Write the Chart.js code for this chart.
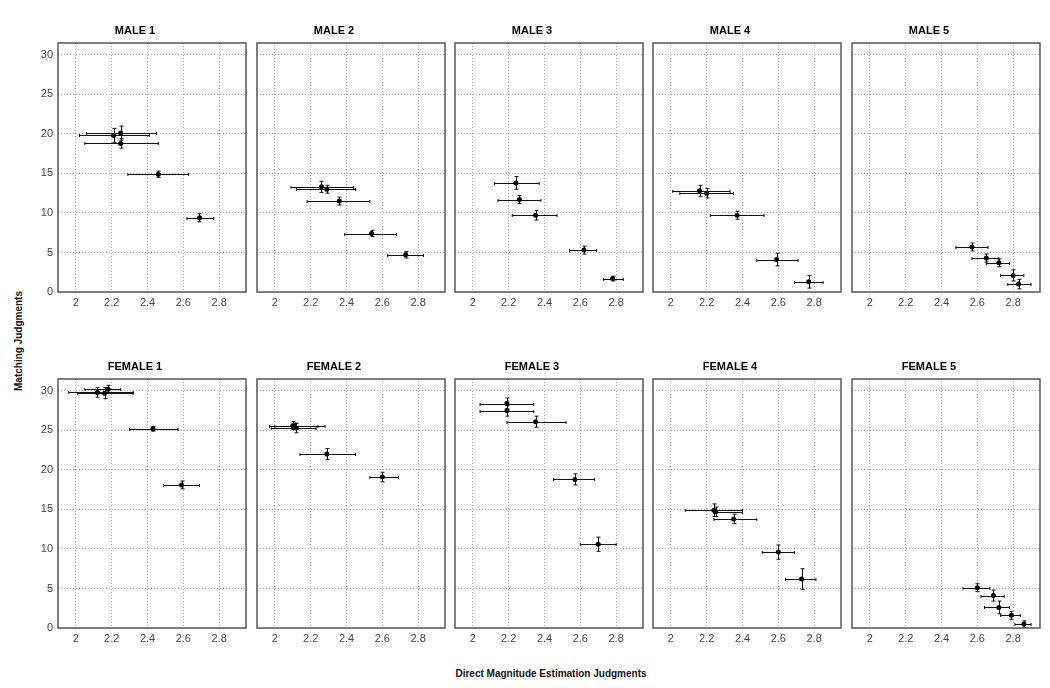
<!DOCTYPE html>
<html>
<head>
<meta charset="utf-8">
<title>Matching vs Direct Magnitude Estimation</title>
<script src="https://cdn.jsdelivr.net/npm/chart.js@4.4.1/dist/chart.umd.min.js"></script>
<style>
  body { margin: 0; background: #fff; font-family: "Liberation Sans", Arial, sans-serif; }
  #wrap { position: relative; width: 1050px; height: 688px; overflow: hidden; }
  #wrap canvas { position: absolute; }
  .axis-label { position: absolute; font-weight: bold; font-size: 10px; color: #111; white-space: nowrap; }
  #ylabel { left: 18px; top: 341px; transform: translate(-50%, -50%) rotate(-90deg); }
  #xlabel { left: 551px; top: 673px; transform: translate(-50%, -50%); }
</style>
</head>
<body>
<div id="wrap">
  <div id="ylabel" class="axis-label">Matching Judgments</div>
  <div id="xlabel" class="axis-label">Direct Magnitude Estimation Judgments</div>
</div>
<script>
// Datos por panel
const panelTitles = ['MALE 1', 'MALE 2', 'MALE 3', 'MALE 4', 'MALE 5',
                     'FEMALE 1', 'FEMALE 2', 'FEMALE 3', 'FEMALE 4', 'FEMALE 5'];
const xTicks = [2, 2.2, 2.4, 2.6, 2.8];
const yTicks = [0, 5, 10, 15, 20, 25, 30];

// media de la estimacion directa (eje x)
const dmeX = [
  [2.21, 2.25, 2.25, 2.46, 2.69],
  [2.26, 2.29, 2.36, 2.54, 2.73],
  [2.24, 2.26, 2.35, 2.62, 2.78],
  [2.16, 2.20, 2.37, 2.59, 2.77],
  [2.57, 2.65, 2.72, 2.80, 2.83],
  [2.12, 2.16, 2.18, 2.43, 2.59],
  [2.10, 2.12, 2.11, 2.29, 2.60],
  [2.19, 2.19, 2.35, 2.57, 2.70],
  [2.24, 2.25, 2.35, 2.60, 2.73],
  [2.60, 2.69, 2.72, 2.79, 2.86]
];
const dmeLow = [
  [2.02, 2.06, 2.05, 2.29, 2.62],
  [2.09, 2.12, 2.18, 2.39, 2.63],
  [2.12, 2.14, 2.22, 2.54, 2.73],
  [2.01, 2.05, 2.22, 2.48, 2.69],
  [2.48, 2.57, 2.65, 2.73, 2.77],
  [1.96, 2.01, 2.05, 2.30, 2.49],
  [1.97, 1.98, 2.00, 2.14, 2.53],
  [2.04, 2.04, 2.19, 2.45, 2.60],
  [2.08, 2.24, 2.24, 2.51, 2.64],
  [2.52, 2.62, 2.64, 2.73, 2.81]
];
const dmeHigh = [
  [2.41, 2.45, 2.46, 2.63, 2.77],
  [2.44, 2.45, 2.53, 2.68, 2.83],
  [2.37, 2.38, 2.47, 2.69, 2.84],
  [2.33, 2.35, 2.52, 2.71, 2.85],
  [2.66, 2.72, 2.78, 2.86, 2.90],
  [2.32, 2.32, 2.25, 2.57, 2.69],
  [2.28, 2.23, 2.24, 2.45, 2.69],
  [2.34, 2.34, 2.52, 2.68, 2.80],
  [2.40, 2.40, 2.48, 2.69, 2.81],
  [2.67, 2.75, 2.78, 2.84, 2.90]
];
// media del emparejamiento (eje y) y su error
const matchY = [
  [19.8, 20.1, 18.8, 14.9, 9.4],
  [13.3, 13.0, 11.5, 7.4, 4.7],
  [13.8, 11.7, 9.7, 5.3, 1.7],
  [12.8, 12.5, 9.7, 4.1, 1.3],
  [5.7, 4.3, 3.7, 2.1, 1.0],
  [29.8, 29.7, 30.2, 25.2, 18.1],
  [25.6, 25.3, 25.5, 22.0, 19.1],
  [28.4, 27.5, 26.1, 18.8, 10.6],
  [14.9, 14.7, 13.8, 9.6, 6.2],
  [5.1, 4.1, 2.6, 1.6, 0.5]
];
const matchErr = [
  [0.9, 0.9, 0.6, 0.4, 0.5],
  [0.7, 0.5, 0.5, 0.4, 0.4],
  [0.8, 0.5, 0.6, 0.5, 0.3],
  [0.7, 0.6, 0.5, 0.8, 0.8],
  [0.5, 0.5, 0.5, 0.7, 0.6],
  [0.6, 0.7, 0.5, 0.3, 0.5],
  [0.5, 0.6, 0.4, 0.7, 0.6],
  [0.7, 0.7, 0.7, 0.7, 0.9],
  [0.8, 0.6, 0.6, 0.9, 1.3],
  [0.5, 0.7, 0.8, 0.5, 0.4]
];

// Disposicion de la rejilla de paneles
const colLeft = [58, 257, 455, 653, 852];
const rowTop = [43, 379];
const PLOT_W = 188, PLOT_H = 249;
const AXIS_W = 34, TITLE_H = 25, XAXIS_H = 22, PAD_R = 6;
const FONT = '"Liberation Sans", Arial, sans-serif';

// barras de error + marco del panel
const errorBox = {
  id: 'errorBox',
  beforeDatasetsDraw(chart, args, opts) {
    const { ctx, scales: { x, y } } = chart;
    const p = opts.panel;
    ctx.save();
    ctx.strokeStyle = '#111';
    ctx.lineWidth = 1;
    dmeX[p].forEach((vx, i) => {
      const px = Math.round(x.getPixelForValue(vx)) + 0.5;
      const py = Math.round(y.getPixelForValue(matchY[p][i])) + 0.5;
      const x0 = x.getPixelForValue(dmeLow[p][i]);
      const x1 = x.getPixelForValue(dmeHigh[p][i]);
      const y0 = y.getPixelForValue(matchY[p][i] - matchErr[p][i]);
      const y1 = y.getPixelForValue(matchY[p][i] + matchErr[p][i]);
      ctx.beginPath();
      ctx.moveTo(x0, py); ctx.lineTo(x1, py);
      ctx.moveTo(x0, py - 1.5); ctx.lineTo(x0, py + 1.5);
      ctx.moveTo(x1, py - 1.5); ctx.lineTo(x1, py + 1.5);
      ctx.moveTo(px, y0); ctx.lineTo(px, y1);
      ctx.moveTo(px - 2, y0); ctx.lineTo(px + 2, y0);
      ctx.moveTo(px - 2, y1); ctx.lineTo(px + 2, y1);
      ctx.stroke();
    });
    ctx.restore();
  },
  afterDraw(chart) {
    const { ctx, chartArea: a } = chart;
    ctx.save();
    ctx.strokeStyle = '#555';
    ctx.lineWidth = 1.5;
    ctx.strokeRect(a.left, a.top, a.width, a.height);
    ctx.restore();
  }
};

function axisOpts(min, max, ticks, showLabels) {
  return {
    type: 'linear',
    min: min,
    max: max,
    afterBuildTicks: s => { s.ticks = ticks.map(v => ({ value: v })); },
    ticks: {
      display: showLabels,
      padding: 5,
      color: '#444',
      font: { family: FONT, size: 11 },
      maxRotation: 0,
      autoSkip: false,
      callback: v => String(v)
    },
    grid: { color: '#a8a8a8', drawTicks: false },
    border: { display: false, dash: [1, 2] }
  };
}

document.addEventListener('DOMContentLoaded', () => {
  const wrap = document.getElementById('wrap');

  panelTitles.forEach((title, p) => {
    const row = Math.floor(p / 5), col = p % 5;
    const canvas = document.createElement('canvas');
    canvas.width = AXIS_W + PLOT_W + PAD_R;
    canvas.height = TITLE_H + PLOT_H + XAXIS_H;
    canvas.style.left = (colLeft[col] - AXIS_W) + 'px';
    canvas.style.top = (rowTop[row] - TITLE_H) + 'px';
    wrap.appendChild(canvas);

    const xAxis = axisOpts(1.9, 2.95, xTicks, true);
    xAxis.ticks.padding = 4;
    xAxis.afterFit = s => { s.height = XAXIS_H; };
    const yAxis = axisOpts(0, 31.5, yTicks, col === 0);
    yAxis.afterFit = s => { s.width = AXIS_W; };

    new Chart(canvas.getContext('2d'), {
      type: 'scatter',
      data: {
        datasets: [{
          data: dmeX[p].map((vx, i) => ({ x: vx, y: matchY[p][i] })),
          pointRadius: 2.5,
          backgroundColor: '#000',
          borderColor: '#000',
          borderWidth: 0
        }]
      },
      options: {
        responsive: false,
        animation: false,
        events: [],
        layout: { padding: { left: 0, right: PAD_R, top: 0, bottom: 0 } },
        scales: { x: xAxis, y: yAxis },
        plugins: {
          legend: { display: false },
          tooltip: { enabled: false },
          title: {
            display: true,
            text: title,
            color: '#000',
            font: { family: FONT, size: 11, weight: 'bold', lineHeight: '12px' },
            padding: { top: 7, bottom: 6 }
          },
          errorBox: { panel: p }
        }
      },
      plugins: [errorBox]
    });
  });
});
</script>
</body>
</html>
